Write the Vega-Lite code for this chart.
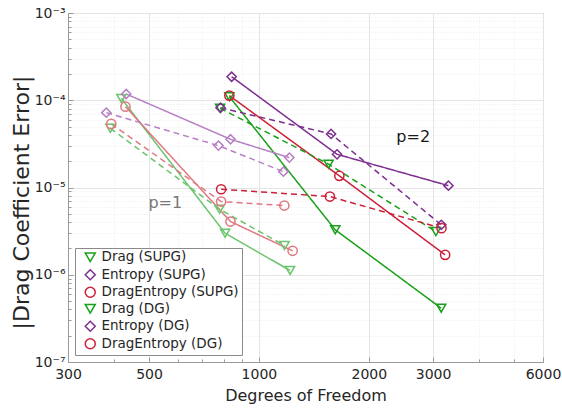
{
  "$schema": "https://vega.github.io/schema/vega-lite/v6.json",
  "autosize": {"type": "none"},
  "width": 475,
  "height": 349,
  "padding": {"left": 68, "top": 13, "right": 19, "bottom": 46},
  "background": "white",
  "config": {
    "font": "DejaVu Sans",
    "view": {"stroke": "#9a9a9a", "strokeWidth": 1},
    "axis": {
      "labelFont": "DejaVu Sans",
      "titleFont": "DejaVu Sans",
      "labelColor": "#262626",
      "titleColor": "#262626",
      "labelFontSize": 14,
      "domainColor": "#9a9a9a",
      "tickColor": "#9a9a9a",
      "titleFontWeight": "normal"
    }
  },
  "datasets": {
    "err": [
      {"s": "Drag (SUPG)", "m": "SUPG", "dof": 830, "e": 1.10e-4},
      {"s": "Drag (SUPG)", "m": "SUPG", "dof": 1619, "e": 3.27e-6},
      {"s": "Drag (SUPG)", "m": "SUPG", "dof": 3157, "e": 4.14e-7},
      {"s": "Entropy (SUPG)", "m": "SUPG", "dof": 842, "e": 1.86e-4},
      {"s": "Entropy (SUPG)", "m": "SUPG", "dof": 1637, "e": 2.40e-5},
      {"s": "Entropy (SUPG)", "m": "SUPG", "dof": 3305, "e": 1.05e-5},
      {"s": "DragEntropy (SUPG)", "m": "SUPG", "dof": 830, "e": 1.13e-4},
      {"s": "DragEntropy (SUPG)", "m": "SUPG", "dof": 1661, "e": 1.36e-5},
      {"s": "DragEntropy (SUPG)", "m": "SUPG", "dof": 3237, "e": 1.69e-6},
      {"s": "Drag (DG)", "m": "DG", "dof": 783, "e": 8.09e-5},
      {"s": "Drag (DG)", "m": "DG", "dof": 1552, "e": 1.85e-5},
      {"s": "Drag (DG)", "m": "DG", "dof": 3053, "e": 3.13e-6},
      {"s": "Entropy (DG)", "m": "DG", "dof": 785, "e": 8.2e-5},
      {"s": "Entropy (DG)", "m": "DG", "dof": 1576, "e": 4.11e-5},
      {"s": "Entropy (DG)", "m": "DG", "dof": 3160, "e": 3.73e-6},
      {"s": "DragEntropy (DG)", "m": "DG", "dof": 788, "e": 9.55e-6},
      {"s": "DragEntropy (DG)", "m": "DG", "dof": 1565, "e": 7.87e-6},
      {"s": "DragEntropy (DG)", "m": "DG", "dof": 3163, "e": 3.42e-6},
      {"s": "Drag (SUPG) p1", "m": "SUPG", "dof": 420, "e": 1.05e-4},
      {"s": "Drag (SUPG) p1", "m": "SUPG", "dof": 808, "e": 2.99e-6},
      {"s": "Drag (SUPG) p1", "m": "SUPG", "dof": 1217, "e": 1.12e-6},
      {"s": "Entropy (SUPG) p1", "m": "SUPG", "dof": 433, "e": 1.18e-4},
      {"s": "Entropy (SUPG) p1", "m": "SUPG", "dof": 836, "e": 3.57e-5},
      {"s": "Entropy (SUPG) p1", "m": "SUPG", "dof": 1212, "e": 2.20e-5},
      {"s": "DragEntropy (SUPG) p1", "m": "SUPG", "dof": 431, "e": 8.45e-5},
      {"s": "DragEntropy (SUPG) p1", "m": "SUPG", "dof": 836, "e": 4.07e-6},
      {"s": "DragEntropy (SUPG) p1", "m": "SUPG", "dof": 1237, "e": 1.88e-6},
      {"s": "Drag (DG) p1", "m": "DG", "dof": 392, "e": 4.77e-5},
      {"s": "Drag (DG) p1", "m": "DG", "dof": 780, "e": 5.64e-6},
      {"s": "Drag (DG) p1", "m": "DG", "dof": 1176, "e": 2.16e-6},
      {"s": "Entropy (DG) p1", "m": "DG", "dof": 382, "e": 7.21e-5},
      {"s": "Entropy (DG) p1", "m": "DG", "dof": 775, "e": 3.02e-5},
      {"s": "Entropy (DG) p1", "m": "DG", "dof": 1167, "e": 1.52e-5},
      {"s": "DragEntropy (DG) p1", "m": "DG", "dof": 394, "e": 5.36e-5},
      {"s": "DragEntropy (DG) p1", "m": "DG", "dof": 788, "e": 6.90e-6},
      {"s": "DragEntropy (DG) p1", "m": "DG", "dof": 1174, "e": 6.21e-6}
    ]
  },
  "layer": [
    {
      "data": {"name": "err"},
      "mark": {"type": "line", "strokeWidth": 1.5, "clip": true},
      "encoding": {
        "x": {
          "field": "dof", "type": "quantitative",
          "scale": {"type": "log", "domain": [300, 6000], "nice": false},
          "axis": {
            "title": "Degrees of Freedom",
            "titleFontSize": 16,
            "titlePadding": 4,
            "values": [300, 400, 500, 600, 700, 800, 900, 1000, 2000, 3000, 4000, 5000, 6000],
            "labelExpr": "indexof([300,500,1000,2000,3000,6000], datum.value) >= 0 ? format(datum.value, 'd') : ''",
            "labelPadding": 10,
            "labelOverlap": false,
            "labelFlush": false,
            "tickSize": {"condition": {"test": "indexof([300,500,1000,2000,3000,6000], datum.value) >= 0", "value": -5}, "value": -3},
            "grid": true,
            "gridColor": {"condition": {"test": "indexof([300,500,1000,2000,3000,6000], datum.value) >= 0", "value": "#e4e4e4"}, "value": "#ececec"},
            "gridDash": {"condition": {"test": "indexof([300,500,1000,2000,3000,6000], datum.value) >= 0", "value": []}, "value": [1, 2]}
          }
        },
        "y": {
          "field": "e", "type": "quantitative",
          "scale": {"type": "log", "domain": [1e-7, 1e-3], "nice": false},
          "axis": {
            "title": "|Drag Coefficient Error|",
            "titleFontSize": 22,
            "titlePadding": 1,
            "titleY": 189,
            "values": [1e-7, 2e-7, 3e-7, 4e-7, 5e-7, 6e-7, 7e-7, 8e-7, 9e-7, 1e-6, 2e-6, 3e-6, 4e-6, 5e-6, 6e-6, 7e-6, 8e-6, 9e-6, 1e-5, 2e-5, 3e-5, 4e-5, 5e-5, 6e-5, 7e-5, 8e-5, 9e-5, 1e-4, 2e-4, 3e-4, 4e-4, 5e-4, 6e-4, 7e-4, 8e-4, 9e-4, 1e-3],
            "labelExpr": "abs(log(datum.value)/LN10 - round(log(datum.value)/LN10)) < 1e-6 ? '10' + ['⁻⁷','⁻⁶','⁻⁵','⁻⁴','⁻³'][round(log(datum.value)/LN10) + 7] : ''",
            "labelPadding": 8,
            "labelOverlap": false,
            "labelFlush": false,
            "tickSize": {"condition": {"test": "abs(log(datum.value)/LN10 - round(log(datum.value)/LN10)) < 1e-6", "value": -5}, "value": -3},
            "grid": true,
            "gridColor": {"condition": {"test": "abs(log(datum.value)/LN10 - round(log(datum.value)/LN10)) < 1e-6", "value": "#e4e4e4"}, "value": "#ececec"},
            "gridDash": {"condition": {"test": "abs(log(datum.value)/LN10 - round(log(datum.value)/LN10)) < 1e-6", "value": []}, "value": [1, 2]}
          }
        },
        "color": {
          "field": "s", "type": "nominal",
          "scale": {
            "domain": ["Drag (SUPG)", "Entropy (SUPG)", "DragEntropy (SUPG)", "Drag (DG)", "Entropy (DG)", "DragEntropy (DG)", "Drag (SUPG) p1", "Entropy (SUPG) p1", "DragEntropy (SUPG) p1", "Drag (DG) p1", "Entropy (DG) p1", "DragEntropy (DG) p1"],
            "range": ["#18a018", "#7d2e8e", "#cc2038", "#18a018", "#7d2e8e", "#cc2038", "#6cc46c", "#b77fc4", "#e07882", "#6cc46c", "#b77fc4", "#e07882"]
          }
        },
        "strokeDash": {
          "field": "m", "type": "nominal",
          "scale": {"domain": ["SUPG", "DG"], "range": [[1, 0], [6, 4]]},
          "legend": null
        },
        "detail": {"field": "s"}
      }
    },
    {
      "data": {"name": "err"},
      "mark": {"type": "point", "filled": false, "strokeWidth": 1.5, "size": 85, "opacity": 1},
      "encoding": {
        "x": {"field": "dof", "type": "quantitative"},
        "y": {"field": "e", "type": "quantitative"},
        "color": {
          "field": "s", "type": "nominal",
          "legend": {
            "title": null,
            "orient": "bottom-left",
            "offset": 7,
            "values": ["Drag (SUPG)", "Entropy (SUPG)", "DragEntropy (SUPG)", "Drag (DG)", "Entropy (DG)", "DragEntropy (DG)"],
            "labelFont": "DejaVu Sans",
            "labelFontSize": 13.5,
            "labelColor": "#262626",
            "labelOffset": 4.5,
            "symbolSize": 100,
            "symbolOffset": 6,
            "symbolStrokeWidth": 1.5,
            "symbolFillColor": "transparent",
            "rowPadding": 0.5,
            "padding": 2.5,
            "strokeColor": "#8a8a8a",
            "fillColor": "white",
            "cornerRadius": 0
          }
        },
        "shape": {
          "field": "s", "type": "nominal",
          "scale": {
            "domain": ["Drag (SUPG)", "Entropy (SUPG)", "DragEntropy (SUPG)", "Drag (DG)", "Entropy (DG)", "DragEntropy (DG)", "Drag (SUPG) p1", "Entropy (SUPG) p1", "DragEntropy (SUPG) p1", "Drag (DG) p1", "Entropy (DG) p1", "DragEntropy (DG) p1"],
            "range": ["triangle-down", "diamond", "circle", "triangle-down", "diamond", "circle", "triangle-down", "diamond", "circle", "triangle-down", "diamond", "circle"]
          }
        }
      }
    },
    {
      "data": {"values": [{"dof": 2647, "e": 3.79e-5, "t": "p=2"}]},
      "mark": {"type": "text", "fontSize": 16, "color": "#1a1a1a", "font": "DejaVu Sans"},
      "encoding": {
        "x": {"field": "dof", "type": "quantitative"},
        "y": {"field": "e", "type": "quantitative"},
        "text": {"field": "t"}
      }
    },
    {
      "data": {"values": [{"dof": 554, "e": 6.7e-6, "t": "p=1"}]},
      "mark": {"type": "text", "fontSize": 16, "color": "#777777", "font": "DejaVu Sans"},
      "encoding": {
        "x": {"field": "dof", "type": "quantitative"},
        "y": {"field": "e", "type": "quantitative"},
        "text": {"field": "t"}
      }
    }
  ]
}
